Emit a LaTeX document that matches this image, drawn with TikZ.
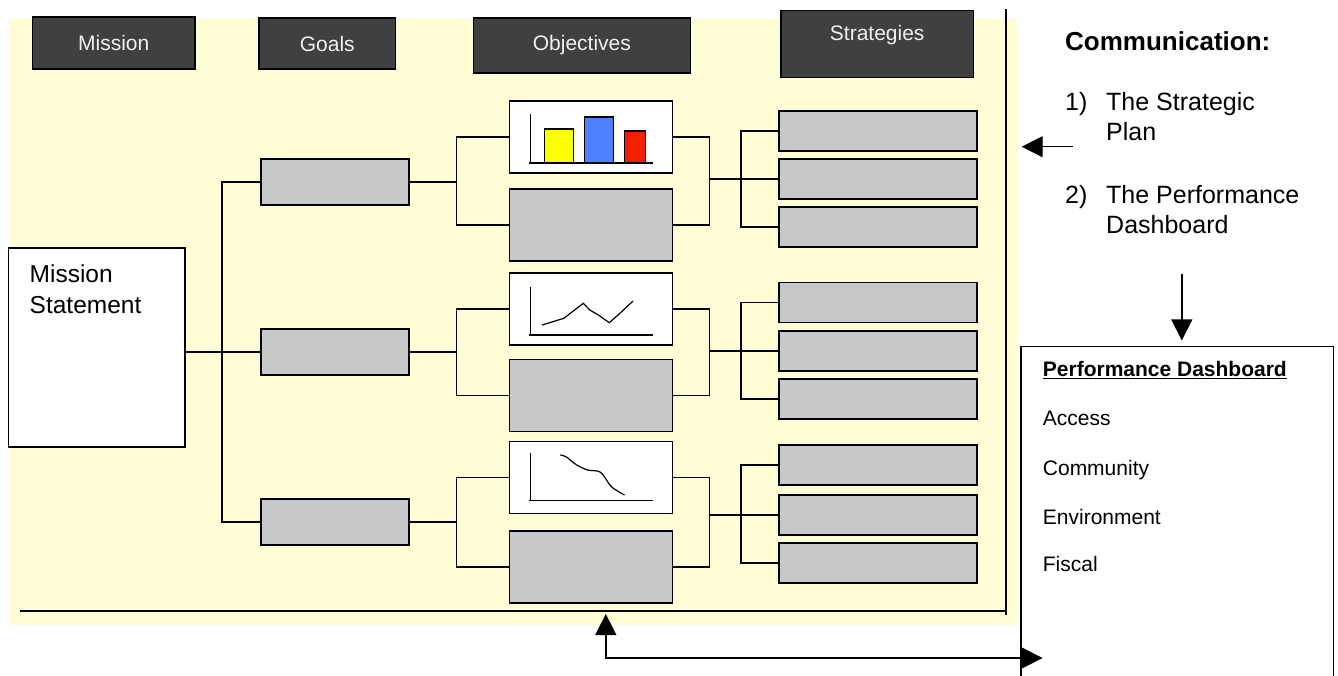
\documentclass[tikz,border=0pt]{standalone}
\usepackage{fontspec}
\setmainfont{Liberation Sans}
\usetikzlibrary{arrows.meta, calc}

\definecolor{note}{RGB}{255,253,213}
\definecolor{headgray}{RGB}{64,64,64}
\definecolor{boxgray}{RGB}{200,200,200}
\definecolor{baryellow}{RGB}{255,255,0}
\definecolor{barblue}{RGB}{77,128,255}
\definecolor{barred}{RGB}{240,32,0}

\begin{document}
\begin{tikzpicture}[x=1pt, y=-1pt,
        head/.style={rectangle, draw, line width=1.5pt, fill=headgray, text=white!94!black, font=\fontsize{21}{25}\selectfont, inner sep=0pt},
        goal/.style={rectangle, draw, line width=1.5pt, fill=boxgray, minimum width=148pt, minimum height=46pt, inner sep=0pt},
        obj/.style={goal, minimum width=163pt, minimum height=72pt},
        chart/.style={obj, fill=white},
        strat/.style={goal, minimum width=198pt, minimum height=40pt},
        link/.style={line width=1.4pt},
        arrow/.style={line width=1.4pt, -{Triangle[length=21pt, width=21pt]}},
        txt/.style={anchor=base west, inner sep=0pt, font=\fontsize{25}{30}\selectfont},
        dtxt/.style={anchor=base west, inner sep=0pt, font=\fontsize{21}{25}\selectfont}
    ]
        \useasboundingbox (0,0) rectangle (1338,675);
        \fill[note] (8.7,19) rectangle (1016.7,625);

        % Headers
        \node[head, minimum width=162.5pt, minimum height=52pt] (hmis) at (113.75,43) {Mission};
        \node[head, minimum width=136.5pt, minimum height=51pt] (hgoa) at (327.25,43.5) {Goals};
        \node[head, minimum width=216.8pt, minimum height=55pt] (hobj) at (581.9,45.5) {Objectives};
        \node[head, minimum width=192.4pt, minimum height=66.6pt, text depth=22pt] (hstr) at (877.2,44) {Strategies};

        % Mission statement
        \node[rectangle, draw, line width=1.5pt, fill=white, minimum width=176.3pt, minimum height=199pt] (ms) at (96.85,347.5) {};
        \node[txt, font=\fontsize{24.5}{30}\selectfont] (ms1) at (29.5,282.7) {Mission};
        \node[txt, font=\fontsize{24.5}{30}\selectfont] (ms2) at (29.5,313.3) {Statement};

        % Goals
        \foreach \i/\y in {1/182, 2/352, 3/522} {
            \node[goal] (g\i) at (334.8,\y) {};
        }
        \draw[link] (ms.east |- g2.west) -- (g2.west);
        \draw[link] (g1.west) -- ++(-38,0) |- (g3.west);

        % Objectives
        \foreach \i/\yc/\yb in {1/137/225, 2/309/395.5, 3/477.5/567} {
            \node[chart] (c\i) at (591,\yc) {};
            \node[obj] (b\i) at (591,\yb) {};
            \draw[link] (c\i.west) -- ++(-52,0) coordinate (jo\i) |- (b\i.west);
            \draw[link] (g\i.east) -- (g\i.east -| jo\i);
        }

        % Charts
        \begin{scope}[shift={(c1.center)}]
            \draw[line width=1.3pt] (-60.2,-23) -- (-60.2,26);
            \draw[line width=1.3pt] (-62,26) -- (61.6,26);
            \foreach \x/\w/\h/\col in {-46.3/28.6/34/baryellow, -6.4/28.6/46/barblue, 33.5/20.8/32/barred}
                \draw[line width=1.3pt, fill=\col] (\x,26) rectangle ++(\w,-\h);
        \end{scope}
        \begin{scope}[shift={(c2.center)}]
            \draw[line width=1.3pt] (-60.2,-22) -- (-60.2,26);
            \draw[line width=1.3pt] (-62,26) -- (61.6,26);
            \draw[line width=1.2pt] (-49,16) -- (-27.2,9.3) -- (-7.7,-5.7) -- (-1.2,1) -- (7.4,6) -- (18.3,13.7) -- (29,4.3) -- (42,-8);
        \end{scope}
        \begin{scope}[shift={(c3.center)}]
            \draw[line width=1.3pt] (-60.2,-24.5) -- (-60.2,23.2);
            \draw[line width=1.3pt] (-62,23.2) -- (61.6,23.2);
            \draw[line width=1.2pt] plot[smooth] coordinates {(-30.7,-22.5) (-25,-20.8) (-14.3,-12.5) (-3.4,-7.5) (9.6,-5.2) (20.4,9.2) (33.5,17.5)};
        \end{scope}

        % Strategies
        \foreach \i/\ya/\yb/\yc in {1/131/179/227, 2/302.7/351/399, 3/465/515/563} {
            \node[strat] (s\i1) at (877.9,\ya) {};
            \node[strat] (s\i2) at (877.9,\yb) {};
            \node[strat] (s\i3) at (877.9,\yc) {};
            \draw[link] (c\i.east) -- ++(36,0) coordinate (jr\i) |- (b\i.east);
            \draw[link] (jr\i |- s\i2.west) -- (s\i2.west);
            \draw[link] (s\i1.west) -- ++(-37,0) |- (s\i3.west);
        }

        % Frame
        \draw[line width=1.5pt] (1005.9,9.3) -- (1005.9,615);
        \draw[line width=1.5pt] (20.4,611) -- (1005.9,611);

        % Communication
        \node[txt, font=\fontsize{26}{30}\selectfont\bfseries] (com) at (1065,50) {Communication:};
        \node[txt] (n1) at (1065,110) {1)};
        \node[txt] (n1a) at (1106,110) {The Strategic};
        \node[txt] (n1b) at (1106,140) {Plan};
        \node[txt] (n2) at (1065,203.3) {2)};
        \node[txt] (n2a) at (1106,203.3) {The Performance};
        \node[txt] (n2b) at (1106,233.3) {Dashboard};

        % Dashboard
        \node[rectangle, draw, line width=1.5pt, fill=white, minimum width=312.6pt, minimum height=346.6pt] (dash) at (1177.3,520) {};
        \node[dtxt, font=\fontsize{21}{25}\selectfont\bfseries] (dt) at (1042.7,376.7) {\underline{Performance Dashboard}};
        \foreach \k/\y/\w in {1/425.7/Access, 2/475/Community, 3/524/Environment, 4/571.7/Fiscal}
            \node[dtxt] (d\k) at (1042.7,\y) {\w};

        % Arrows
        \coordinate (pl) at (1072.7,146.7);
        \coordinate (pd) at (1181.8,274);
        \coordinate (fb) at (605.8,611);
        \coordinate (dl) at (1042.6,658);
        \draw[arrow] (pl) -- (pl -| 1021.7,0);
        \draw[arrow, shorten >=5.5pt] (pd) -- (pd |- dash.north);
        \draw[line width=1.4pt, {Triangle[length=21pt, width=21pt]}-{Triangle[length=21pt, width=21pt]}, shorten <=3pt] (fb) |- (dl);
\end{tikzpicture}
\end{document}
